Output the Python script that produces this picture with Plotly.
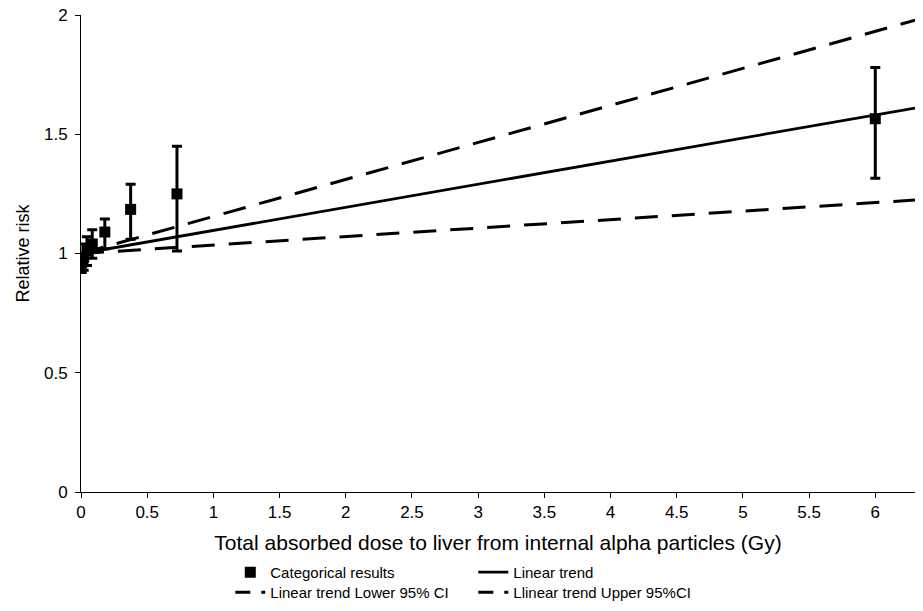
import plotly.graph_objects as go

# Categorical results (dose categories)
cat_dose = [0.005, 0.02, 0.045, 0.085, 0.18, 0.375, 0.725, 6.0]
cat_rr = [0.96, 0.985, 1.01, 1.04, 1.09, 1.185, 1.25, 1.565]
cat_lo = [0.92, 0.93, 0.95, 0.98, 1.02, 1.06, 1.01, 1.315]
cat_hi = [1.00, 1.04, 1.07, 1.10, 1.145, 1.29, 1.45, 1.78]

# Linear trend and its confidence limits (straight lines, end points)
trend_dose = [0.0, 6.3]
trend_rr = [1.0, 1.61]
trend_lower = [1.0, 1.224]
trend_upper = [1.0, 1.978]

x_ticks = [0, 0.5, 1, 1.5, 2, 2.5, 3, 3.5, 4, 4.5, 5, 5.5, 6]
y_ticks = [0, 0.5, 1, 1.5, 2]

FONT = "Liberation Sans, Arial, sans-serif"
DASH = "23px,14px"
LEG_DASH = "15px,11px,8px,200px"

fig = go.Figure()

fig.add_trace(go.Scatter(
    x=trend_dose, y=trend_lower, mode="lines",
    line=dict(color="black", width=3, dash=DASH),
    showlegend=False, hoverinfo="skip"))
fig.add_trace(go.Scatter(
    x=trend_dose, y=trend_upper, mode="lines",
    line=dict(color="black", width=3, dash=DASH),
    showlegend=False, hoverinfo="skip"))
fig.add_trace(go.Scatter(
    x=trend_dose, y=trend_rr, mode="lines",
    line=dict(color="black", width=2.8),
    showlegend=False, hoverinfo="skip"))

fig.add_trace(go.Scatter(
    x=cat_dose, y=cat_rr, mode="markers",
    name="Categorical results", legend="legend",
    marker=dict(symbol="square", size=11, color="black"),
    error_y=dict(type="data", symmetric=False,
                 array=[h - v for h, v in zip(cat_hi, cat_rr)],
                 arrayminus=[v - l for v, l in zip(cat_rr, cat_lo)],
                 color="black", thickness=3, width=5)))

# legend entries
fig.add_trace(go.Scatter(x=[None], y=[None], mode="lines", name="Linear trend",
                         legend="legend", line=dict(color="black", width=2.8)))
fig.add_trace(go.Scatter(x=[None], y=[None], mode="lines", name="Linear trend Lower 95% CI",
                         legend="legend2", line=dict(color="black", width=3, dash=LEG_DASH)))
fig.add_trace(go.Scatter(x=[None], y=[None], mode="lines", name="Llinear trend Upper 95%CI",
                         legend="legend2", line=dict(color="black", width=3, dash=LEG_DASH)))

leg_common = dict(orientation="h", xanchor="left", yanchor="top",
                  entrywidth=198, font=dict(size=15, family=FONT),
                  tracegroupgap=0, bgcolor="rgba(0,0,0,0)")

fig.update_layout(
    width=923, height=611,
    margin=dict(l=81, r=8, t=15, b=119, autoexpand=False),
    paper_bgcolor="white", plot_bgcolor="white",
    font=dict(family=FONT, color="black", size=17),
    legend=dict(x=0.179, y=-0.134, **leg_common),
    legend2=dict(x=0.179, y=-0.176, **leg_common),
    xaxis=dict(range=[0, 6.3], tickvals=x_ticks, ticks="outside", ticklen=5,
               tickcolor="black", showline=True, linecolor="black", linewidth=1,
               showgrid=False, zeroline=False, tickfont=dict(size=17),
               title=dict(text="Total absorbed dose to liver from internal alpha particles (Gy)",
                          font=dict(size=21), standoff=13)),
    yaxis=dict(range=[0, 2], tickvals=y_ticks, ticks="outside", ticklen=5,
               tickcolor="black", showline=True, linecolor="black", linewidth=1,
               showgrid=False, zeroline=False, tickfont=dict(size=17),
               ticklabelstandoff=4,
               title=dict(text="Relative risk", font=dict(size=18), standoff=9)),
)

fig.write_html("out.html")
